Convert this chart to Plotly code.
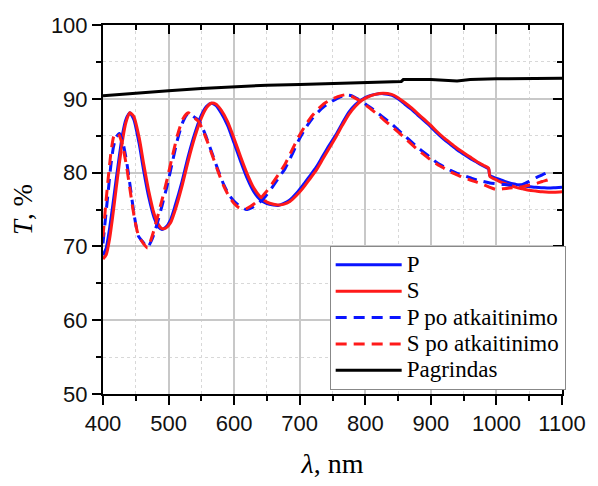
import plotly.graph_objects as go

# ---- data ----
lam_solid = [400, 405, 410, 415, 420, 425, 430, 435, 441, 447, 455, 462, 470, 478, 485, 490, 496, 503, 510, 520,
             530, 540, 550, 558, 565, 572, 580, 590, 600, 610, 620, 630, 640, 650, 660, 667, 675, 685, 695, 705,
             715, 725, 735, 745, 755, 765, 775, 785, 795, 805, 815, 827, 840, 850, 860, 870, 880, 890, 900, 910,
             920, 930, 940, 950, 960, 970, 980, 988, 990, 1000, 1010, 1020, 1030, 1040, 1050, 1060, 1070, 1080,
             1090, 1100]
T_P = [68.8, 69.8, 72.4, 75.6, 79.0, 82.3, 85.3, 87.2, 88.1, 87.2, 84.0, 80.3, 76.6, 73.9, 72.6, 72.3, 72.6, 73.6,
       75.5, 78.6, 82.2, 85.3, 87.8, 89.0, 89.4, 89.1, 88.1, 86.4, 84.0, 81.5, 79.2, 77.4, 76.3, 75.8, 75.6, 75.55,
       75.8, 76.3, 77.2, 78.3, 79.5, 80.7, 82.2, 83.7, 85.1, 86.7, 88.2, 89.2, 89.9, 90.35, 90.6, 90.7, 90.5, 90.0,
       89.3, 88.6, 87.8, 87.0, 86.2, 85.3, 84.5, 83.8, 83.1, 82.5, 81.9, 81.4, 80.9, 80.5, 79.6, 79.2, 78.9, 78.6,
       78.4, 78.2, 78.1, 78.0, 77.95, 77.9, 77.95, 78.0]
T_S = [68.3, 68.9, 71.0, 74.2, 77.8, 81.3, 84.5, 86.8, 88.1, 87.6, 84.8, 81.2, 77.4, 74.4, 72.9, 72.4, 72.5, 73.2,
       74.9, 78.0, 81.6, 84.8, 87.4, 88.8, 89.4, 89.3, 88.5, 86.9, 84.6, 82.1, 79.8, 77.9, 76.7, 76.0, 75.7, 75.6,
       75.7, 76.1, 76.9, 77.9, 79.1, 80.3, 81.8, 83.3, 84.8, 86.4, 87.9, 89.0, 89.8, 90.3, 90.6, 90.75, 90.6, 90.15,
       89.5, 88.8, 88.0, 87.2, 86.4, 85.5, 84.7, 84.0, 83.3, 82.7, 82.1, 81.5, 81.0, 80.6, 79.5, 79.0, 78.6, 78.3,
       78.0, 77.8, 77.6, 77.5, 77.4, 77.35, 77.35, 77.4]

lam_Ppo = [400, 404, 408, 412, 416, 420, 425, 430, 436, 442, 448, 454, 460, 468, 475, 482, 490, 498, 506, 514, 522,
           530, 538, 546, 553, 560, 568, 576, 584, 592, 600, 608, 618, 628, 638, 648, 658, 668, 678, 688, 698, 708,
           718, 728, 738, 748, 758, 770, 780, 790, 800, 810, 820, 830, 840, 850, 860, 870, 880, 890, 900, 910, 920,
           930, 940, 950, 960, 970, 980, 990, 1000, 1010, 1020, 1030, 1040, 1050, 1060, 1070, 1078]
T_Ppo = [70.4, 74.0, 77.5, 81.0, 83.5, 84.8, 85.3, 84.2, 81.5, 77.8, 74.0, 71.4, 70.7, 69.9, 71.0, 72.9, 75.5, 78.3,
         81.5, 84.6, 86.9, 88.05, 87.6, 87.1, 85.8, 84.2, 82.2, 80.2, 78.4, 77.0, 76.1, 75.5, 75.0, 75.3, 75.9, 76.8,
         78.0, 79.3, 80.6, 82.4, 84.3, 85.9, 87.2, 88.2, 89.0, 89.6, 90.1, 90.5, 90.4, 89.9, 89.3, 88.7, 88.0, 87.3,
         86.6, 85.8, 85.0, 84.2, 83.4, 82.7, 82.0, 81.3, 80.8, 80.3, 79.9, 79.6, 79.3, 79.0, 78.8, 78.6, 78.5, 78.4,
         78.3, 78.3, 78.4, 78.8, 79.3, 79.7, 80.0]

lam_Spo = [400, 404, 408, 412, 416, 420, 425, 430, 436, 442, 448, 454, 460, 468, 475, 482, 490, 498, 506, 514, 522,
           530, 538, 546, 553, 560, 568, 576, 584, 592, 600, 608, 618, 628, 638, 648, 658, 668, 678, 688, 698, 708,
           718, 728, 738, 748, 758, 770, 780, 790, 800, 810, 820, 830, 840, 850, 860, 870, 880, 890, 900, 910, 920,
           930, 940, 950, 960, 970, 980, 990, 1000, 1010, 1020, 1030, 1040, 1050, 1060, 1070, 1078, 1086]
T_Spo = [71.3, 75.5, 79.3, 82.6, 84.8, 85.4, 85.0, 83.6, 80.8, 77.2, 73.8, 71.5, 70.6, 69.8, 71.4, 73.6, 76.3, 79.2,
         82.3, 85.2, 87.3, 88.1, 87.5, 86.9, 85.6, 84.0, 82.0, 80.0, 78.2, 76.8, 75.8, 75.2, 75.1, 75.6, 76.3, 77.3,
         78.5, 79.8, 81.2, 83.0, 84.8, 86.3, 87.6, 88.6, 89.4, 89.9, 90.3, 90.55, 90.3, 89.8, 89.2, 88.5, 87.8, 87.0,
         86.3, 85.5, 84.7, 83.9, 83.1, 82.4, 81.7, 81.1, 80.6, 80.1, 79.7, 79.3, 79.0, 78.7, 78.4, 78.0, 77.7, 77.8,
         77.9, 78.0, 78.1, 78.3, 78.5, 78.8, 79.0, 79.3]

lam_base = [400, 450, 500, 550, 600, 650, 700, 750, 800, 855, 858, 900, 940, 960, 1000, 1050, 1100]
T_base = [90.4, 90.8, 91.1, 91.4, 91.65, 91.85, 91.95, 92.05, 92.2, 92.35, 92.6, 92.6, 92.4, 92.6, 92.7, 92.75, 92.8]

names = ["P", "S", "P po atkaitinimo", "S po atkaitinimo", "Pagrindas"]
x_ticks = [400, 500, 600, 700, 800, 900, 1000, 1100]
y_ticks = [50, 60, 70, 80, 90, 100]


def leg(name):
    # larger glyphs than the legend's nominal font so the rows stay compact
    return '<span style="font-size:23px">' + name + '</span>'


# ---- figure ----
fig = go.Figure()
sm = 0.6
fig.add_trace(go.Scatter(x=lam_solid, y=T_P, name=leg(names[0]), mode="lines",
                         line=dict(color="#0a14ff", width=3, shape="spline", smoothing=sm)))
fig.add_trace(go.Scatter(x=lam_solid, y=T_S, name=leg(names[1]), mode="lines",
                         line=dict(color="#ff1a1a", width=3, shape="spline", smoothing=sm)))
fig.add_trace(go.Scatter(x=lam_Ppo, y=T_Ppo, name=leg(names[2]), mode="lines",
                         line=dict(color="#0a14ff", width=3, dash="11px,7px", shape="spline", smoothing=sm)))
fig.add_trace(go.Scatter(x=lam_Spo, y=T_Spo, name=leg(names[3]), mode="lines",
                         line=dict(color="#ff1a1a", width=3, dash="11px,7px", shape="spline", smoothing=sm)))
fig.add_trace(go.Scatter(x=lam_base, y=T_base, name=leg(names[4]), mode="lines",
                         line=dict(color="black", width=3)))
# empty helper trace so the mirrored (top/right) tick axes are drawn
fig.add_trace(go.Scatter(x=[], y=[], xaxis="x2", yaxis="y2", showlegend=False, hoverinfo="skip"))

tickfont = dict(family="Liberation Sans, Arial", size=22, color="#111")
axis_common = dict(showline=True, linecolor="black", linewidth=2, mirror=True, zeroline=False,
                   ticks="outside", ticklen=9, tickwidth=2, tickcolor="black",
                   showgrid=True, gridcolor="#c8c8c8", gridwidth=1.5, tickfont=tickfont)

fig.update_layout(
    width=598, height=486,
    margin=dict(l=103, r=30, t=25, b=84),
    plot_bgcolor="white", paper_bgcolor="white",
    xaxis=dict(range=[400, 1100], tickvals=x_ticks, **axis_common,
               minor=dict(dtick=50, tick0=400, ticks="outside", ticklen=5, tickwidth=1.5, tickcolor="black",
                          showgrid=True, griddash="dot", gridcolor="#d8d8d8", gridwidth=1),
               title=dict(text="<i>λ</i>, nm", standoff=18,
                          font=dict(family="Liberation Serif, Times New Roman", size=28, color="black"))),
    yaxis=dict(range=[50, 100], tickvals=y_ticks, **axis_common,
               minor=dict(dtick=5, tick0=50, ticks="outside", ticklen=5, tickwidth=1.5, tickcolor="black",
                          showgrid=True, griddash="dot", gridcolor="#d8d8d8", gridwidth=1),
               title=dict(text="<i>T</i>, %", standoff=10,
                          font=dict(family="Liberation Serif, Times New Roman", size=27, color="black"))),
    xaxis2=dict(range=[400, 1100], overlaying="x", side="top", anchor="y2", tickvals=x_ticks,
                ticks="inside", ticklen=9, tickwidth=2, tickcolor="black", showticklabels=False,
                showgrid=False, zeroline=False, showline=False,
                minor=dict(dtick=50, tick0=400, ticks="inside", ticklen=5, tickwidth=1.5, tickcolor="black")),
    yaxis2=dict(range=[50, 100], overlaying="y", side="right", anchor="x2", tickvals=y_ticks,
                ticks="inside", ticklen=9, tickwidth=2, tickcolor="black", showticklabels=False,
                showgrid=False, zeroline=False, showline=False,
                minor=dict(dtick=5, tick0=50, ticks="inside", ticklen=5, tickwidth=1.5, tickcolor="black")),
    legend=dict(x=1.008, xanchor="right", y=0.012, yanchor="bottom",
                bgcolor="white", bordercolor="#888888", borderwidth=1,
                font=dict(family="Liberation Serif, Times New Roman", size=18, color="black"),
                itemwidth=66, tracegroupgap=0, traceorder="normal"),
)

fig.write_html("out.html")
